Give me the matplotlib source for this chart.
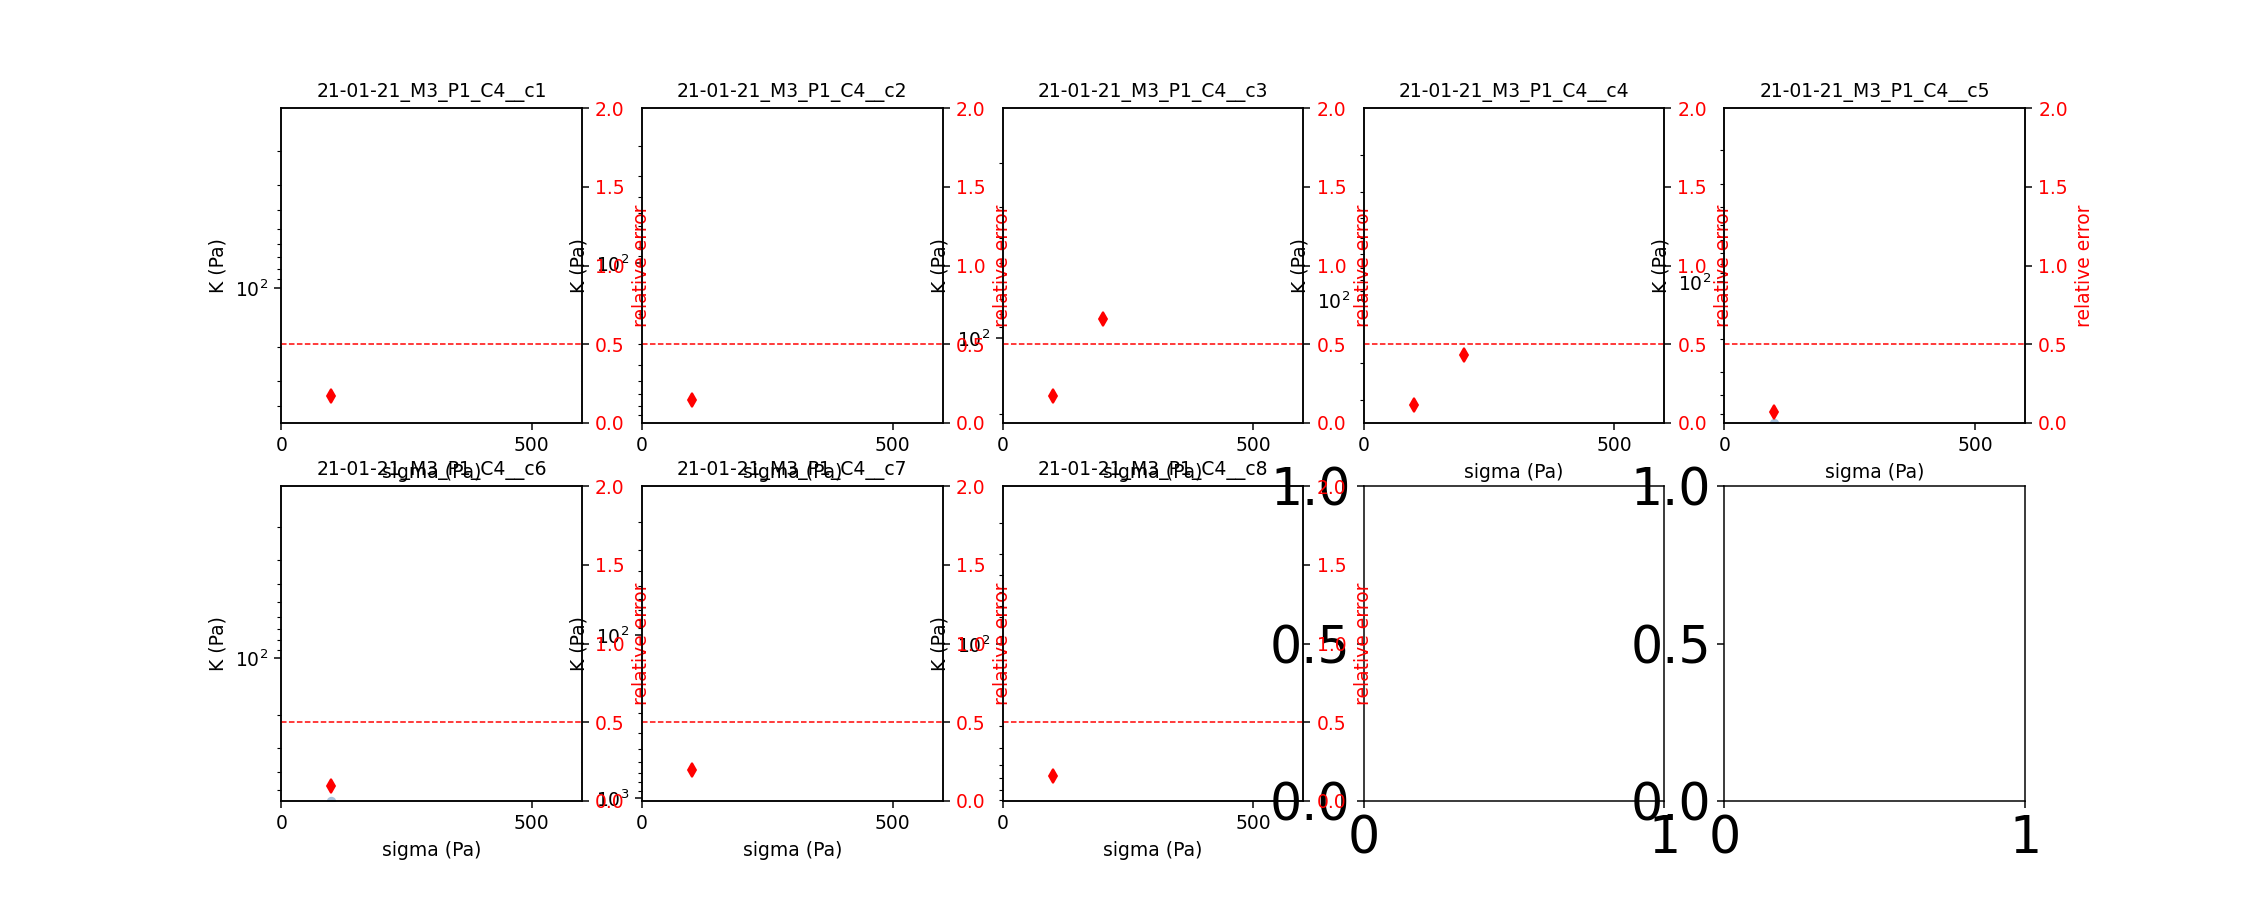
import numpy as np
import matplotlib.pyplot as plt

cells = ['21-01-21_M3_P1_C4__c1', '21-01-21_M3_P1_C4__c2', '21-01-21_M3_P1_C4__c3',
         '21-01-21_M3_P1_C4__c4', '21-01-21_M3_P1_C4__c5', '21-01-21_M3_P1_C4__c6',
         '21-01-21_M3_P1_C4__c7', '21-01-21_M3_P1_C4__c8']

sigma = [[100], [100], [100, 200], [100, 200], [100], [100], [100], [100]]
rel_error = [[0.17], [0.145], [0.17, 0.66], [0.112, 0.43], [0.07], [0.093], [0.195], [0.158]]

# K points that can still be seen (right at the lower edge of c5 and c6)
K_sigma = [[], [], [], [], [100], [100], [], []]
K_values = [[], [], [], [], [560], [574], [], []]

# K axis limits (axis runs downwards)
K_bottom = [489, 889, 218, 389, 560, 574, 1040, 811]
K_top = [12.1, 11.9, 12.1, 11.9, 11.9, 12.1, 12.1, 12.2]

fig, axes = plt.subplots(2, 5, figsize=(50 / 3, 20 / 3))

for i, ax in enumerate(axes.flat):
    if i >= len(cells):
        # unused panels
        ax.set_xticks([0, 1])
        ax.set_yticks([0, 0.5, 1])
        ax.tick_params(labelsize=27)
        continue

    ax.plot(K_sigma[i], K_values[i], 'o', color='#a9c4de', ms=4)
    ax.set_yscale('log')
    ax.set_ylim(K_bottom[i], K_top[i])
    ax.set_xlim(0, 600)
    ax.set_xticks([0, 500])
    ax.set_xlabel('sigma (Pa)')
    ax.set_ylabel('K (Pa)')
    ax.set_title(cells[i], fontsize=10)

    ax2 = ax.twinx()
    ax2.plot(sigma[i], rel_error[i], 'rd', ms=5)
    ax2.axhline(0.5, color='r', ls='--', lw=0.8)
    ax2.set_ylim(0, 2)
    ax2.set_yticks([0, 0.5, 1, 1.5, 2])
    ax2.set_ylabel('relative error', color='r')
    ax2.tick_params(axis='y', labelcolor='r')

plt.savefig('out.png', dpi=135)
